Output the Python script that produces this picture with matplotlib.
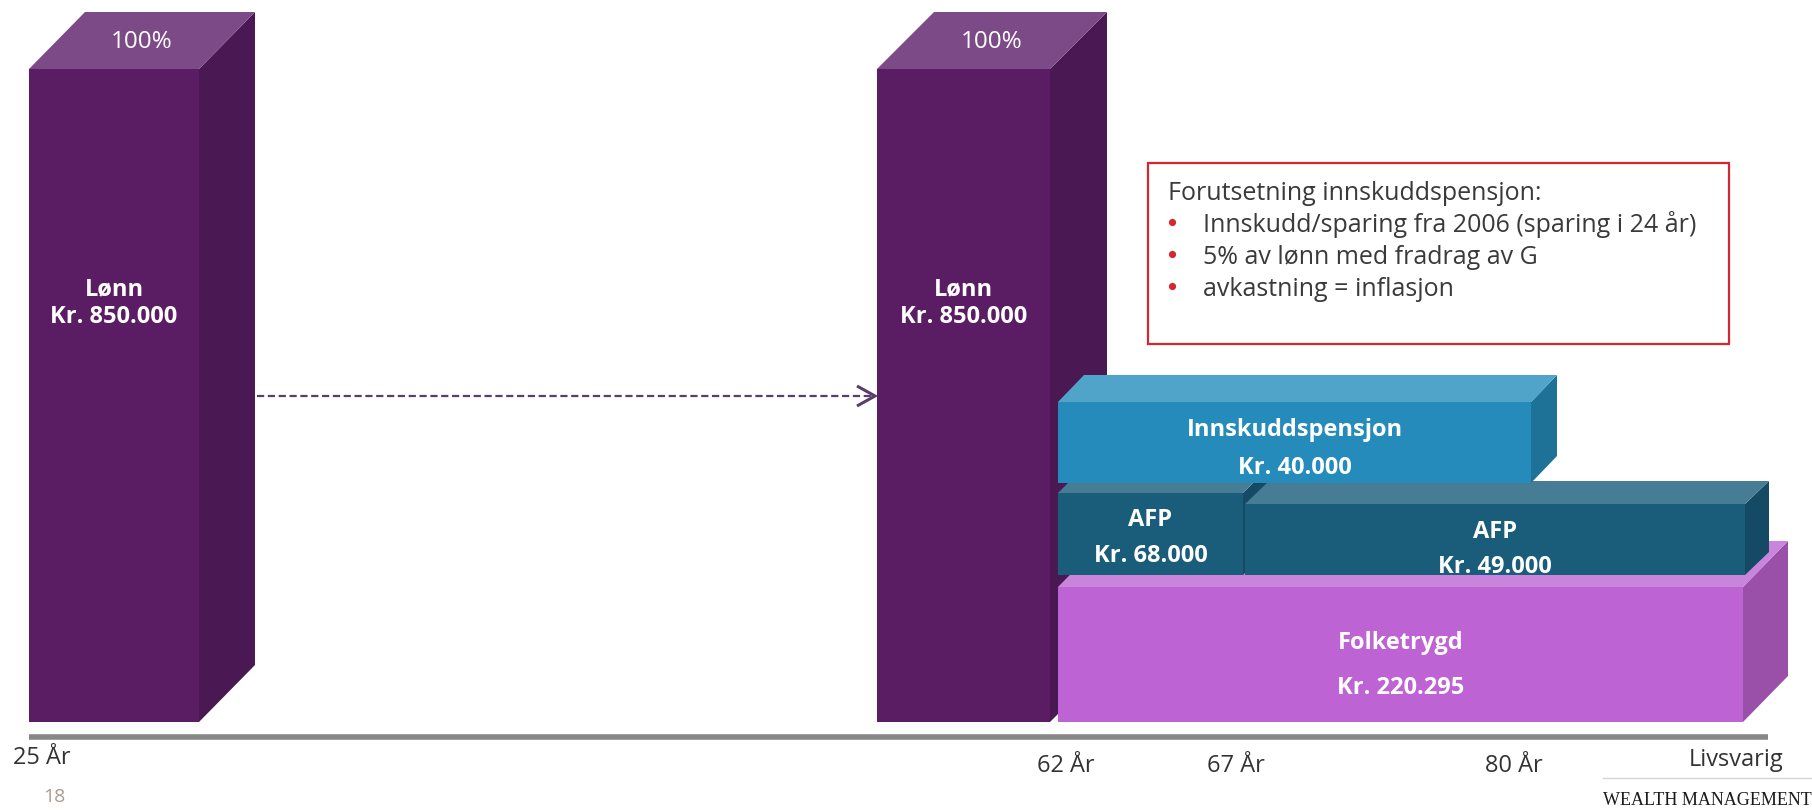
import matplotlib
matplotlib.use('Agg')
import matplotlib.pyplot as plt
from matplotlib.patches import Polygon, Rectangle

plt.rcParams['font.family'] = ['Open Sans', 'DejaVu Sans']
plt.rcParams['lines.scale_dashes'] = False

# ---------------- data ----------------
age_labels = ['25 År', '62 År', '67 År', '80 År', 'Livsvarig']
salary_label = 'Lønn'
salary_value = 850000
salary_share = '100%'
pension_labels = ['Folketrygd', 'AFP', 'AFP', 'Innskuddspensjon']
pension_values = [220295, 68000, 49000, 40000]
assumption_title = 'Forutsetning innskuddspensjon:'
assumptions = ['Innskudd/sparing fra 2006 (sparing i 24 år)',
               '5% av lønn med fradrag av G',
               'avkastning = inflasjon']
page_number = '18'
footer = 'WEALTH MANAGEMENT'


def kr(v):
    return 'Kr. ' + f'{v:,}'.replace(',', '.')


# ---------------- layout (schematic slide coordinates) ----------------
W, H = 1812, 811
# x0, x1, y_top, y_bottom, depth_x, depth_y
salary_boxes = [(29, 199, 69, 722, 56, 57), (877, 1050, 69, 722, 57, 57)]
pension_boxes = [(1058, 1743, 587, 722, 45, 46),
                 (1058, 1243, 493, 575, 24, 24),
                 (1245, 1745, 504, 575, 24, 23),
                 (1058, 1531, 402, 483, 26, 27)]
pension_baselines = [(649, 694), (526, 562), (538, 573), (436, 474)]
salary_baselines = (295, 323)
tick_x = [42, 1066, 1236, 1514, 1736]
tick_base = [764, 772, 772, 772, 766]

salary_colors = ('#5A1D64', '#7C4B87', '#4A1852')
pension_colors = [('#BD63D3', '#C985DB', '#9A4FA9'),
                  ('#1A5D7A', '#467D95', '#144A64'),
                  ('#1A5D7A', '#467D95', '#144A64'),
                  ('#248BBB', '#51A4C9', '#1E7298')]

fig = plt.figure(figsize=(W / 100, H / 100), dpi=100)
ax = fig.add_axes([0, 0, 1, 1])
ax.set_xlim(0, W)
ax.set_ylim(H, 0)
ax.axis('off')


def box(x0, x1, yt, yb, dx, dy, cols, z):
    front, top, side = cols
    ax.add_patch(Polygon([(x1, yt), (x1 + dx, yt - dy), (x1 + dx, yb - dy), (x1, yb)],
                         closed=True, facecolor=side, edgecolor='none', zorder=z))
    ax.add_patch(Polygon([(x0, yt), (x1, yt), (x1 + dx, yt - dy), (x0 + dx, yt - dy)],
                         closed=True, facecolor=top, edgecolor='none', zorder=z))
    ax.add_patch(Rectangle((x0, yt), x1 - x0, yb - yt, facecolor=front,
                           edgecolor='none', zorder=z + 0.5))


bold = dict(color='white', fontweight='bold', fontsize=17, ha='center', va='baseline')

# salary bars
for i, (x0, x1, yt, yb, dx, dy) in enumerate(salary_boxes):
    box(x0, x1, yt, yb, dx, dy, salary_colors, 2 + i)
    cx = (x0 + x1) / 2
    ax.text(cx, salary_baselines[0], salary_label, zorder=20, **bold)
    ax.text(cx, salary_baselines[1], kr(salary_value), zorder=20, **bold)
    ax.text(cx + dx / 2, yt - dy / 2 + 7, salary_share, color='white', fontsize=17.5,
            ha='center', va='baseline', zorder=20)

# pension boxes (painter's order: bottom to top)
for i, ((x0, x1, yt, yb, dx, dy), lab, val, cols, bl) in enumerate(
        zip(pension_boxes, pension_labels, pension_values, pension_colors, pension_baselines)):
    box(x0, x1, yt, yb, dx, dy, cols, 5 + i)
    cx = (x0 + x1) / 2
    ax.text(cx, bl[0], lab, zorder=20, **bold)
    ax.text(cx, bl[1], kr(val), zorder=20, **bold)

# dashed arrow between salary bars
arrow_col = '#5B3D6B'
ax.plot([257, 873], [396, 396], color=arrow_col, lw=1.6, dashes=(5.2, 2.6), zorder=3)
ax.plot([857, 875, 857], [386, 396, 406], color=arrow_col, lw=2.2, zorder=3,
        solid_joinstyle='miter', solid_capstyle='butt')

# time axis
ax.plot([29, 1768], [736.5, 736.5], color='#878787', lw=4, solid_capstyle='butt', zorder=1)
for lab, x, b in zip(age_labels, tick_x, tick_base):
    ax.text(x, b, lab, color='#333333', fontsize=17, ha='center', va='baseline')

# assumptions box
ax.add_patch(Rectangle((1148, 163), 1729 - 1148, 344 - 163, facecolor='white',
                       edgecolor='#D7262F', lw=1.6, zorder=10))
ax.text(1168, 200, assumption_title, color='#3A3A3A', fontsize=18, ha='left',
        va='baseline', zorder=11)
for k, line in enumerate(assumptions):
    yb = 232 + 32 * k
    ax.plot([1172], [yb - 10], marker='o', ms=5.2, color='#D7262F', mec='none', zorder=11)
    ax.text(1203, yb, line, color='#3A3A3A', fontsize=18, ha='left', va='baseline', zorder=11)

# footer
ax.text(54, 802, page_number, color='#A89C90', fontsize=14, ha='center', va='baseline')
ax.plot([1603, 1812], [778, 778], color='#D5D5D5', lw=1)
ax.text(1603, 805, footer, color='#1A1A1A', fontsize=13, ha='left', va='baseline',
        family=['Liberation Serif', 'DejaVu Serif'])

fig.savefig('out.png', dpi=100)
